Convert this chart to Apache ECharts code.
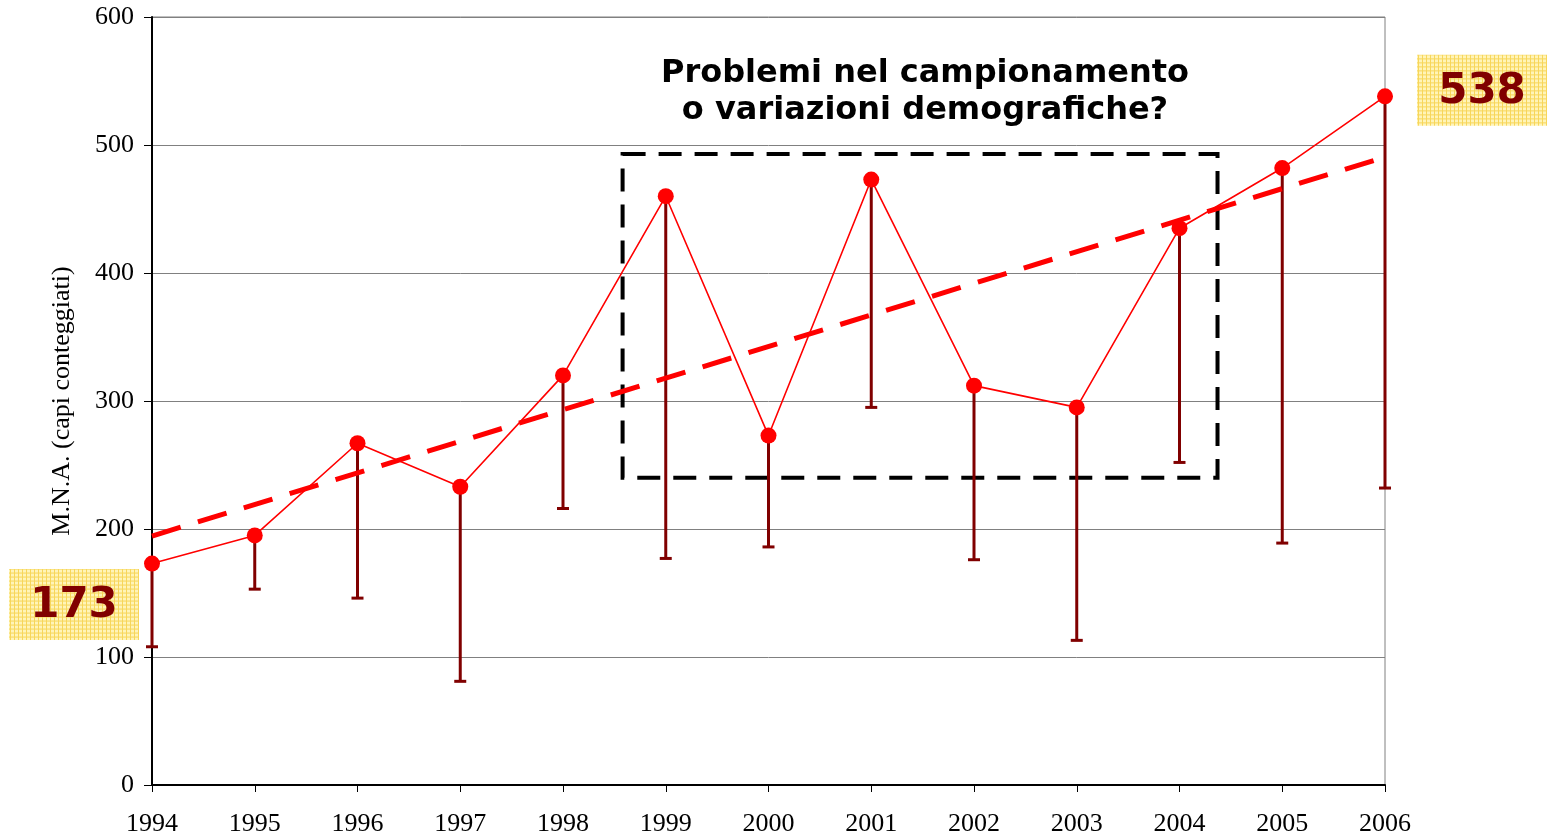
<!DOCTYPE html>
<html><head><meta charset="utf-8">
<script src="https://cdn.jsdelivr.net/npm/echarts@6/dist/echarts.min.js"></script>
<style>html,body{margin:0;padding:0;background:#fff}#c{width:1547px;height:839px}</style>
</head><body><div id="c"></div>
<script>
const years = [1994,1995,1996,1997,1998,1999,2000,2001,2002,2003,2004,2005,2006];
const mna = [173,195,267,233,320,460,273,473,312,295,435,482,538];
const lower = [108,153,146,81,216,177,186,295,176,113,252,189,232];
const trendYears = [1994,2006];
const trendValues = [194.5,490.6];
const boxX = [1998.58,2004.37];
const boxY = [240,493];
const yTicks = [0,100,200,300,400,500,600];
const titleLines = ['Problemi nel campionamento','o variazioni demografiche?'];

const pc = document.createElement('canvas');
pc.width = 4; pc.height = 4;
const g = pc.getContext('2d');
g.fillStyle = '#FFF4B8'; g.fillRect(0,0,4,4);
g.fillStyle = '#F7D65A'; g.fillRect(0,0,4,1); g.fillRect(0,0,1,4);

const chart = echarts.init(document.getElementById('c'));
const mainData = years.map((y,i)=>[y,mna[i]]);
const errData = years.map((y,i)=>[y,mna[i],lower[i]]);

chart.setOption({
  animation:false,
  backgroundColor:'#fff',
  grid:{left:152,right:162,top:17,bottom:54,show:true,borderColor:'#808080',borderWidth:1},
  xAxis:{type:'value',min:1994,max:2006,interval:1,
    axisLine:{show:true,onZero:false,lineStyle:{color:'#000',width:2}},
    axisTick:{show:true,length:7,lineStyle:{color:'#000',width:1}},
    axisLabel:{color:'#000',fontFamily:'Liberation Serif',fontSize:26,margin:26,formatter:v=>String(v)},
    splitLine:{show:false}},
  yAxis:{type:'value',min:0,max:600,interval:100,
    name:'M.N.A. (capi conteggiati)',nameLocation:'middle',nameGap:77,
    nameTextStyle:{color:'#000',fontFamily:'Liberation Serif',fontSize:26},
    axisLine:{show:true,lineStyle:{color:'#000',width:2}},
    axisTick:{show:true,length:8,lineStyle:{color:'#000',width:1}},
    axisLabel:{color:'#000',fontFamily:'Liberation Serif',fontSize:26,margin:18,
      formatter:v=>yTicks.includes(v)?String(v):''},
    splitLine:{show:true,lineStyle:{color:'#808080',width:1}}},
  series:[
    {type:'custom',z:2,data:errData,
      renderItem:(params,api)=>{
        const x=api.value(0);
        const p1=api.coord([x,api.value(1)]);
        const p2=api.coord([x,api.value(2)]);
        return {type:'group',children:[
          {type:'line',shape:{x1:p1[0],y1:p1[1],x2:p2[0],y2:p2[1]},style:{stroke:'#800000',lineWidth:3}},
          {type:'line',shape:{x1:p2[0]-6,y1:p2[1],x2:p2[0]+6,y2:p2[1]},style:{stroke:'#800000',lineWidth:3}}
        ]};
      }},
    {type:'line',z:3,data:trendYears.map((y,i)=>[y,trendValues[i]]),symbol:'none',
      lineStyle:{color:'#FF0000',width:5,type:[30,18]},
      markArea:{silent:true,itemStyle:{color:'rgba(0,0,0,0)',borderColor:'#000',borderWidth:4,borderType:[23,13]},
        data:[[{coord:[boxX[0],boxY[1]]},{coord:[boxX[1],boxY[0]]}]]}},
    {type:'line',z:4,data:mainData,symbol:'circle',symbolSize:16,
      itemStyle:{color:'#FF0000'},lineStyle:{color:'#FF0000',width:1.6}}
  ]
});

const pFirst = chart.convertToPixel({gridIndex:0},[years[0],mna[0]]);
const pLast = chart.convertToPixel({gridIndex:0},[years[years.length-1],mna[mna.length-1]]);
function valueBox(cx,cy,val){
  return {type:'group',x:cx,y:cy,z:100,children:[
    {type:'rect',shape:{x:-65,y:-35.5,width:130,height:71},style:{fill:{image:pc,repeat:'repeat'}}},
    {type:'text',style:{text:String(val),x:0,y:2,textAlign:'center',textVerticalAlign:'middle',
      font:'bold 42px "DejaVu Sans"',fill:'#800000'}}
  ]};
}
chart.setOption({graphic:[
  valueBox(pFirst[0]-78,pFirst[1]+41,mna[0]),
  valueBox(pLast[0]+97,pLast[1]-6,mna[mna.length-1]),
  {type:'text',z:100,style:{text:titleLines.join('\n'),x:925,y:55,textAlign:'center',
    font:'bold 32px "DejaVu Sans"',fill:'#000',lineHeight:37}}
]});
</script></body></html>
